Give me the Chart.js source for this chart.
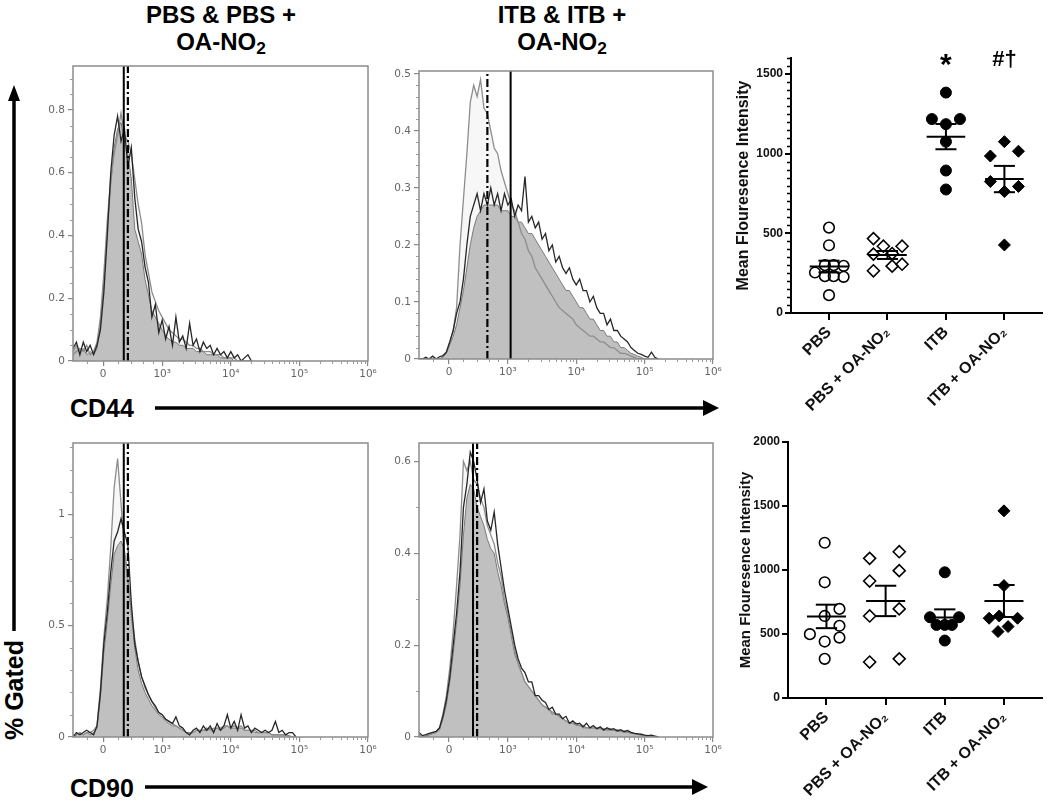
<!DOCTYPE html>
<html>
<head>
<meta charset="utf-8">
<script src="https://cdn.jsdelivr.net/npm/chart.js@4.4.1/dist/chart.umd.min.js"></script>
<style>
  body { margin: 0; background: #fff; }
  #fig { position: relative; width: 1050px; height: 804px; overflow: hidden; font-family: 'Liberation Sans', Arial, sans-serif; color: #000; }
  #fig canvas { position: absolute; }
  #fig svg { position: absolute; left: 0; top: 0; }
  .head { position: absolute; width: 300px; text-align: center; font-weight: bold; font-size: 24px; line-height: 27px; }
  .head sub { font-size: 0.72em; vertical-align: -0.22em; line-height: 0; }
  .axlbl { position: absolute; font-weight: bold; font-size: 25px; line-height: 25px; white-space: nowrap; }
</style>
</head>
<body>
<div id="fig">
  <svg width="1050" height="804">
    <g fill="#000" stroke="#000" stroke-width="3.5">
      <line x1="14" y1="631" x2="14" y2="98" />
      <polygon points="14,85 8,101 20,101" stroke="none" />
      <line x1="155" y1="408" x2="706" y2="408" />
      <polygon points="719,408 703,400 703,416" stroke="none" />
      <line x1="145" y1="787" x2="695" y2="787" />
      <polygon points="708,787 692,779 692,795" stroke="none" />
    </g>
  </svg>
  <div class="head" style="left:71px;top:1px">PBS &amp; PBS +<br>OA-NO<sub>2</sub></div>
  <div class="head" style="left:412px;top:1px">ITB &amp; ITB +<br>OA-NO<sub>2</sub></div>
  <div class="axlbl" style="left:70px;top:396px">CD44</div>
  <div class="axlbl" style="left:70px;top:776px">CD90</div>
  <div class="axlbl" style="left:14px;top:690px;transform:translate(-50%,-50%) rotate(-90deg)">% Gated</div>
  <canvas id="histCd44Pbs"></canvas>
  <canvas id="histCd44Itb"></canvas>
  <canvas id="histCd90Pbs"></canvas>
  <canvas id="histCd90Itb"></canvas>
  <canvas id="mfiCd44"></canvas>
  <canvas id="mfiCd90"></canvas>
</div>
<script>
// ---- histogram bins (display units: 3 = 10^3, 4 = 10^4 ...) ----
const U_BINS = [1.70,1.75,1.80,1.85,1.90,1.95,2.00,2.05,2.10,2.15,2.20,2.25,2.30,2.35,2.40,2.45,2.50,2.55,2.60,2.65,
  2.70,2.75,2.80,2.85,2.90,2.95,3.00,3.05,3.10,3.15,3.20,3.25,3.30,3.35,3.40,3.45,3.50,3.55,3.60,3.65,
  3.70,3.75,3.80,3.85,3.90,3.95,4.00,4.05,4.10,4.15,4.20,4.25,4.30,4.35,4.40,4.45,4.50,4.55,4.60,4.65,
  4.70,4.75,4.80,4.85,4.90,4.95,5.00,5.05,5.10,5.15,5.20];

const HIST_X_TICKS = [2.14, 3, 4, 5, 6];
const HIST_X_LABELS = ['0', '10³', '10⁴', '10⁵', '10⁶'];

// CD44, PBS & PBS + OA-NO2
const CD44_PBS_FILL = [0.03,0.05,0.03,0.04,0.02,0.03,0.02,0.04,0.12,0.25,0.42,0.56,0.68,0.74,0.76,0.70,0.66,0.58,0.42,0.38,
  0.34,0.26,0.21,0.16,0.14,0.12,0.10,0.08,0.07,0.06,0.06,0.05,0.05,0.04,0.04,0.04,0.03,0.03,0.03,0.02,
  0.02,0.02,0.02,0.01,0.01,0.01,0.01,0,0,0,0,0,0];
const CD44_PBS_DARK = [0.04,0.06,0.02,0.06,0.03,0.05,0.02,0.05,0.10,0.22,0.40,0.60,0.72,0.78,0.70,0.74,0.62,0.68,0.52,0.42,
  0.38,0.30,0.25,0.14,0.18,0.09,0.13,0.07,0.11,0.05,0.14,0.06,0.08,0.04,0.12,0.05,0.07,0.03,0.06,0.04,
  0.05,0.02,0.04,0.02,0.03,0.01,0.03,0.01,0.02,0,0.01,0.02,0];
const CD44_PBS_LIGHT = [0.02,0.03,0.04,0.03,0.05,0.02,0.03,0.06,0.14,0.28,0.45,0.58,0.66,0.72,0.79,0.72,0.70,0.66,0.58,0.50,
  0.44,0.34,0.28,0.22,0.19,0.16,0.14,0.12,0.10,0.09,0.08,0.07,0.07,0.06,0.05,0.05,0.04,0.04,0.03,0.03,
  0.03,0.02,0.02,0.02,0.01,0.01,0.01,0.01,0,0,0,0,0];

// CD44, ITB & ITB + OA-NO2
const CD44_ITB_FILL = [0,0,0,0,0,0,0,0.003,0.01,0.025,0.04,0.06,0.09,0.12,0.16,0.20,0.23,0.25,0.26,0.27,
  0.27,0.27,0.27,0.27,0.26,0.26,0.26,0.25,0.25,0.24,0.24,0.23,0.22,0.22,0.21,0.20,0.19,0.18,0.17,0.16,
  0.15,0.14,0.13,0.12,0.12,0.11,0.10,0.09,0.09,0.08,0.07,0.07,0.06,0.05,0.05,0.04,0.04,0.03,0.03,0.02,
  0.02,0.015,0.01,0.008,0.005,0.003,0,0,0,0,0];
const CD44_ITB_DARK = [0,0,0.003,0,0.005,0,0.004,0.006,0.012,0.03,0.05,0.08,0.10,0.14,0.20,0.25,0.27,0.29,0.26,0.29,
  0.27,0.30,0.27,0.29,0.26,0.29,0.27,0.28,0.25,0.27,0.26,0.32,0.24,0.25,0.23,0.24,0.21,0.22,0.19,0.20,
  0.17,0.18,0.16,0.15,0.16,0.14,0.13,0.14,0.12,0.12,0.10,0.11,0.09,0.08,0.08,0.06,0.07,0.05,0.05,0.04,
  0.035,0.03,0.02,0.015,0.01,0.008,0.005,0.003,0.012,0.003,0];
const CD44_ITB_LIGHT = [0,0,0,0,0,0,0,0.004,0.012,0.03,0.05,0.09,0.20,0.28,0.36,0.45,0.48,0.46,0.49,0.44,
  0.43,0.40,0.37,0.36,0.33,0.31,0.29,0.27,0.26,0.24,0.22,0.21,0.19,0.18,0.16,0.15,0.14,0.13,0.12,0.11,
  0.10,0.09,0.085,0.08,0.075,0.07,0.06,0.055,0.05,0.045,0.04,0.04,0.035,0.03,0.03,0.025,0.02,0.02,0.015,0.01,
  0.01,0.008,0.005,0.003,0,0,0,0,0,0,0];

// CD90, PBS & PBS + OA-NO2
const CD90_PBS_FILL = [0,0.01,0.02,0.01,0.02,0.01,0.02,0.04,0.18,0.38,0.52,0.68,0.82,0.86,0.88,0.84,0.72,0.55,0.40,0.30,
  0.24,0.20,0.17,0.14,0.12,0.10,0.09,0.07,0.06,0.05,0.05,0.04,0.03,0.02,0.02,0.02,0.03,0.03,0.03,0.03,
  0.04,0.03,0.04,0.03,0.04,0.05,0.04,0.04,0.04,0.04,0.03,0.03,0.03,0.02,0.02,0.02,0.02,0.02,0.01,0.01,
  0.01,0.01,0.01,0.005,0,0];
const CD90_PBS_DARK = [0,0.02,0.01,0.02,0.03,0.02,0.01,0.05,0.20,0.42,0.56,0.74,0.88,0.92,0.98,0.92,0.86,0.60,0.42,0.34,
  0.27,0.23,0.19,0.16,0.14,0.11,0.10,0.08,0.07,0.06,0.09,0.05,0.04,0.02,0.01,0.03,0.04,0.02,0.05,0.03,
  0.05,0.02,0.06,0.03,0.05,0.10,0.04,0.07,0.03,0.10,0.04,0.05,0.02,0.04,0.03,0.02,0.03,0.02,0.03,0.07,
  0.02,0.03,0.01,0.02,0.02,0];
const CD90_PBS_LIGHT = [0,0.01,0.02,0.01,0.02,0.02,0.03,0.05,0.22,0.45,0.62,0.85,1.12,1.25,1.05,0.82,0.70,0.56,0.44,0.34,
  0.27,0.22,0.19,0.16,0.13,0.11,0.10,0.08,0.07,0.06,0.05,0.04,0.03,0.02,0.02,0.02,0.03,0.03,0.03,0.04,
  0.03,0.04,0.04,0.04,0.05,0.05,0.04,0.05,0.04,0.05,0.03,0.03,0.03,0.03,0.02,0.02,0.02,0.02,0.01,0.01,
  0.01,0.01,0.01,0.005,0,0];

// CD90, ITB & ITB + OA-NO2
const CD90_ITB_FILL = [0.005,0,0.003,0.005,0.008,0.01,0.015,0.04,0.07,0.12,0.18,0.25,0.33,0.44,0.52,0.55,0.54,0.50,0.48,0.46,
  0.43,0.41,0.40,0.36,0.33,0.29,0.26,0.22,0.18,0.16,0.14,0.12,0.11,0.10,0.09,0.08,0.07,0.065,0.06,0.055,
  0.05,0.045,0.04,0.035,0.03,0.03,0.025,0.025,0.02,0.02,0.02,0.02,0.018,0.018,0.016,0.015,0.015,0.014,0.013,0.012,
  0.01,0.01,0.008,0.007,0.006,0.004,0.003,0.002,0,0,0];
const CD90_ITB_DARK = [0.01,0.003,0.005,0.008,0.01,0.012,0.02,0.045,0.08,0.13,0.20,0.27,0.36,0.50,0.55,0.62,0.60,0.56,0.51,0.54,
  0.47,0.45,0.49,0.42,0.37,0.32,0.28,0.24,0.20,0.17,0.15,0.14,0.12,0.12,0.09,0.09,0.08,0.075,0.06,0.065,
  0.05,0.05,0.04,0.045,0.03,0.035,0.028,0.03,0.022,0.03,0.02,0.025,0.018,0.022,0.015,0.02,0.016,0.018,0.013,0.016,
  0.012,0.014,0.01,0.008,0.007,0.006,0.004,0.003,0.004,0.002,0];
const CD90_ITB_LIGHT = [0.005,0,0,0.005,0.008,0.01,0.02,0.05,0.09,0.15,0.23,0.33,0.44,0.60,0.58,0.60,0.56,0.55,0.52,0.50,
  0.46,0.44,0.42,0.38,0.35,0.30,0.27,0.23,0.19,0.16,0.14,0.12,0.11,0.10,0.09,0.08,0.07,0.065,0.06,0.05,
  0.05,0.045,0.04,0.035,0.03,0.03,0.03,0.025,0.025,0.02,0.02,0.02,0.02,0.02,0.018,0.016,0.018,0.015,0.016,0.014,
  0.012,0.01,0.01,0.008,0.006,0.004,0.003,0.002,0,0,0];

// gate lines (solid = PBS / ITB, dash-dot = + OA-NO2)
const GATE_SOLID = [2.44, 3.04, 2.44, 2.49];
const GATE_DASH = [2.50, 2.70, 2.50, 2.55];

// ---- mean fluorescence intensity dot plots ----
const CATS = ['PBS', 'PBS + OA-NO₂', 'ITB', 'ITB + OA-NO₂'];

const MFI44_PBS = [536, 425, 300, 300, 296, 254, 231, 231, 227, 112];
const MFI44_PBS_OA = [467, 419, 419, 369, 373, 265, 294, 306];
const MFI44_ITB = [1383, 1217, 1217, 1185, 1075, 894, 775];
const MFI44_ITB_OA = [1075, 985, 1015, 825, 762, 794, 427];
const JIT44_PBS = [0, 0, -0.07, 0.08, 0.25, -0.24, -0.07, 0.08, 0.25, 0];
const JIT44_PBS_OA = [-0.24, -0.07, 0.25, -0.24, 0.08, -0.24, 0.08, 0.25];
const JIT44_ITB = [0, -0.24, 0.24, 0, 0, 0, 0];
const JIT44_ITB_OA = [0, -0.24, 0.24, -0.24, 0, 0.24, 0];

const MFI90_PBS = [1213, 904, 641, 696, 564, 499, 441, 472, 306];
const MFI90_PBS_OA = [1091, 1143, 995, 914, 641, 696, 281, 306];
const MFI90_ITB = [982, 631, 631, 571, 571, 571, 449];
const MFI90_ITB_OA = [1462, 878, 623, 641, 623, 519, 558];
const JIT90_PBS = [-0.03, -0.03, -0.03, 0.22, 0.22, -0.28, -0.03, 0.22, -0.03];
const JIT90_PBS_OA = [-0.27, 0.23, 0.23, -0.27, -0.27, 0.23, -0.27, 0.23];
const JIT90_ITB = [0, -0.25, 0.24, -0.14, 0, 0.12, 0];
const JIT90_ITB_OA = [0, 0, -0.25, -0.08, 0.23, -0.1, 0.07];

const MFI44_TICKS = [0, 500, 1000, 1500];
const MFI90_TICKS = [0, 500, 1000, 1500, 2000];
const SIG_MARKS = ['', '', '*', '#†'];

Chart.defaults.font.family = "'Liberation Sans', Arial, sans-serif";
Chart.defaults.animation = false;
Chart.defaults.plugins.legend.display = false;
Chart.defaults.plugins.tooltip.enabled = false;

// ---- small plugins ----
const framePlugin = {
  id: 'frame',
  afterDraw(chart, args, opts) {
    const { ctx, chartArea: a } = chart;
    ctx.save();
    ctx.strokeStyle = opts.color;
    ctx.lineWidth = opts.width;
    ctx.strokeRect(a.left, a.top, a.right - a.left, a.bottom - a.top);
    ctx.restore();
  }
};

const minorTicksPlugin = {
  id: 'minorTicks',
  afterDraw(chart, args, opts) {
    const { ctx, chartArea: a, scales } = chart;
    ctx.save();
    ctx.strokeStyle = opts.color;
    ctx.lineWidth = opts.width;
    ctx.beginPath();
    (opts.x || []).forEach(v => {
      const px = Math.round(scales.x.getPixelForValue(v)) + 0.5;
      if (px < a.left || px > a.right) return;
      ctx.moveTo(px, a.bottom);
      ctx.lineTo(px, a.bottom + opts.len);
    });
    (opts.y || []).forEach(v => {
      const py = Math.round(scales.y.getPixelForValue(v)) + 0.5;
      ctx.moveTo(a.left, py);
      ctx.lineTo(a.left - opts.len, py);
    });
    ctx.stroke();
    ctx.restore();
  }
};

const meanSemPlugin = {
  id: 'meanSem',
  afterDatasetsDraw(chart, args, opts) {
    const { ctx, scales: { x, y } } = chart;
    ctx.save();
    ctx.strokeStyle = '#000';
    ctx.lineWidth = opts.width;
    opts.groups.forEach((vals, i) => {
      const n = vals.length;
      const mean = vals.reduce((s, v) => s + v, 0) / n;
      const sd = Math.sqrt(vals.reduce((s, v) => s + (v - mean) ** 2, 0) / (n - 1));
      const sem = sd / Math.sqrt(n);
      const hline = (v, half) => {
        ctx.beginPath();
        ctx.moveTo(x.getPixelForValue(i - half), y.getPixelForValue(v));
        ctx.lineTo(x.getPixelForValue(i + half), y.getPixelForValue(v));
        ctx.stroke();
      };
      hline(mean, opts.meanHalf);
      hline(mean + sem, opts.semHalf);
      hline(mean - sem, opts.semHalf);
      ctx.beginPath();
      ctx.moveTo(x.getPixelForValue(i), y.getPixelForValue(mean - sem));
      ctx.lineTo(x.getPixelForValue(i), y.getPixelForValue(mean + sem));
      ctx.stroke();
    });
    ctx.restore();
  }
};

const sigPlugin = {
  id: 'sig',
  afterDraw(chart, args, opts) {
    if (!opts.marks) return;
    const { ctx, scales: { x, y } } = chart;
    ctx.save();
    ctx.fillStyle = '#000';
    ctx.textAlign = 'center';
    opts.marks.forEach((m, i) => {
      if (!m) return;
      const star = m === '*';
      ctx.font = star ? "bold 30px 'Liberation Sans', Arial" : "bold 22px 'Liberation Sans', Arial";
      ctx.fillText(m, x.getPixelForValue(i), y.getPixelForValue(opts.level) + (star ? 16 : 8));
    });
    ctx.restore();
  }
};

// x minor ticks of the flow histograms
const HIST_X_MINOR = [1.9, 2.35, 2.55, 2.72, 2.86];
[3, 4, 5].forEach(k => { for (let m = 2; m <= 9; m++) HIST_X_MINOR.push(k + Math.log10(m)); });

function histogram(id, box, fillVals, darkVals, lightVals, yMax, yTicks, yMinorStep, solidU, dashU) {
  const cv = document.getElementById(id);
  const W = box.r - box.l, H = box.b - box.t;
  cv.width = W + 46 + 18;
  cv.height = H + 12 + 28;
  cv.style.left = (box.l - 46) + 'px';
  cv.style.top = (box.t - 12) + 'px';

  const pts = vals => vals.map((v, i) => ({ x: U_BINS[i], y: v }));
  const yMinor = [];
  for (let k = 1; k * yMinorStep < yMax; k++) {
    const v = Math.round(k * yMinorStep * 1000) / 1000;
    if (!yTicks.some(t => Math.abs(t - v) < 1e-6)) yMinor.push(v);
  }

  new Chart(cv, {
    type: 'line',
    data: {
      datasets: [
        { data: pts(lightVals), fill: 'origin', backgroundColor: 'rgba(0,0,0,0.03)', borderWidth: 0, order: 6 },
        { data: pts(fillVals), fill: 'origin', backgroundColor: '#c0c0c0', borderColor: '#7a7a7a', borderWidth: 1, order: 5 },
        { data: pts(lightVals), fill: false, borderColor: '#8d8d8d', borderWidth: 1.3, order: 4 },
        { data: pts(darkVals), fill: false, borderColor: '#262626', borderWidth: 1.3, order: 3 },
        { data: [{ x: solidU, y: 0 }, { x: solidU, y: yMax }], fill: false, borderColor: '#000', borderWidth: 2, order: 1 },
        { data: [{ x: dashU, y: 0 }, { x: dashU, y: yMax }], fill: false, borderColor: '#000', borderWidth: 2.2,
          borderDash: [8, 3, 2, 3], order: 1 }
      ]
    },
    options: {
      responsive: false,
      layout: { padding: { top: 12, right: 18, left: 0, bottom: 0 } },
      elements: { point: { radius: 0 }, line: { tension: 0 } },
      scales: {
        x: {
          type: 'linear', min: 1.7, max: 6,
          afterBuildTicks: s => { s.ticks = HIST_X_TICKS.map(v => ({ value: v })); },
          afterFit: s => { s.height = 28; },
          ticks: { autoSkip: false, maxRotation: 0, color: '#666', padding: 2,
                   font: { family: "'DejaVu Sans', Verdana, sans-serif", size: 10.5 },
                   callback: (v, i) => HIST_X_LABELS[i] },
          grid: { drawOnChartArea: false, tickLength: 5, color: '#888', lineWidth: 1.2 },
          border: { display: false }
        },
        y: {
          min: 0, max: yMax,
          afterBuildTicks: s => { s.ticks = yTicks.map(v => ({ value: v })); },
          afterFit: s => { s.width = 46; },
          ticks: { autoSkip: false, color: '#666', padding: 3,
                   font: { family: "'DejaVu Sans', Verdana, sans-serif", size: 10.5 },
                   callback: v => String(v) },
          grid: { drawOnChartArea: false, tickLength: 5, color: '#888', lineWidth: 1.2 },
          border: { display: false }
        }
      },
      plugins: {
        frame: { color: '#8c8c8c', width: 1.5 },
        minorTicks: { x: HIST_X_MINOR, y: yMinor, len: 3, color: '#999', width: 1 }
      }
    },
    plugins: [framePlugin, minorTicksPlugin]
  });
}

const GROUP_STYLE = [
  { pointStyle: 'circle', pointRadius: 5.3, pointBackgroundColor: 'rgba(255,255,255,0)', pointBorderWidth: 1.6 },
  { pointStyle: 'rectRot', pointRadius: 6, pointBackgroundColor: 'rgba(255,255,255,0)', pointBorderWidth: 1.6 },
  { pointStyle: 'circle', pointRadius: 5.5, pointBackgroundColor: '#000', pointBorderWidth: 1 },
  { pointStyle: 'rectRot', pointRadius: 6, pointBackgroundColor: '#000', pointBorderWidth: 1 }
];

function dotPlot(id, place, groups, jitters, yMax, yTicks, yMinorStep, titleSize, titlePad, marks) {
  const cv = document.getElementById(id);
  cv.width = place.w;
  cv.height = place.h;
  cv.style.left = place.left + 'px';
  cv.style.top = place.top + 'px';

  const yMinor = [];
  if (yMinorStep) {
    for (let v = yMinorStep; v <= yMax; v += yMinorStep) if (!yTicks.includes(v)) yMinor.push(v);
  }

  const datasets = groups.map((vals, g) => Object.assign({
    data: vals.map((v, k) => ({ x: g + jitters[g][k], y: v })),
    pointBorderColor: '#000'
  }, GROUP_STYLE[g]));

  new Chart(cv, {
    type: 'scatter',
    data: { datasets },
    options: {
      responsive: false,
      layout: { padding: { top: place.areaTop, right: 5, left: 0, bottom: 0 } },
      scales: {
        x: {
          type: 'linear', min: -0.65, max: 3.65,
          afterBuildTicks: s => { s.ticks = CATS.map((c, i) => ({ value: i })); },
          afterFit: s => { s.height = place.h - place.areaBottom; },
          ticks: { autoSkip: false, minRotation: 45, maxRotation: 45, color: '#111', padding: 3,
                   font: { size: 16, weight: 'bold' }, callback: (v, i) => CATS[i] },
          grid: { drawOnChartArea: false, tickLength: 7, color: '#000', lineWidth: 2 },
          border: { color: '#000', width: 2 }
        },
        y: {
          min: 0, max: yMax,
          afterBuildTicks: s => { s.ticks = yTicks.map(v => ({ value: v })); },
          afterFit: s => { s.width = place.areaLeft; },
          ticks: { autoSkip: false, color: '#111', padding: 2, font: { size: 12, weight: 'bold' },
                   callback: v => String(v) },
          grid: { drawOnChartArea: false, tickLength: 6, color: '#000', lineWidth: 2 },
          border: { color: '#000', width: 2 },
          title: { display: true, text: 'Mean Flouresence Intensity', color: '#111',
                   font: { size: titleSize, weight: 'bold' }, padding: { top: titlePad, bottom: 0 } }
        }
      },
      plugins: {
        minorTicks: { y: yMinor, len: 4, color: '#000', width: 1.5 },
        meanSem: { groups, meanHalf: 0.33, semHalf: 0.18, width: 2 },
        sig: { marks, level: yMax }
      }
    },
    plugins: [minorTicksPlugin, meanSemPlugin, sigPlugin]
  });
}

histogram('histCd44Pbs', { l: 73, t: 66, r: 368, b: 361 }, CD44_PBS_FILL, CD44_PBS_DARK, CD44_PBS_LIGHT,
  0.94, [0, 0.2, 0.4, 0.6, 0.8], 0.05, GATE_SOLID[0], GATE_DASH[0]);
histogram('histCd44Itb', { l: 419, t: 71, r: 713, b: 359 }, CD44_ITB_FILL, CD44_ITB_DARK, CD44_ITB_LIGHT,
  0.505, [0, 0.1, 0.2, 0.3, 0.4, 0.5], 0.02, GATE_SOLID[1], GATE_DASH[1]);
histogram('histCd90Pbs', { l: 73, t: 443, r: 368, b: 737 }, CD90_PBS_FILL, CD90_PBS_DARK, CD90_PBS_LIGHT,
  1.32, [0, 0.5, 1], 0.1, GATE_SOLID[2], GATE_DASH[2]);
histogram('histCd90Itb', { l: 419, t: 443, r: 713, b: 737 }, CD90_ITB_FILL, CD90_ITB_DARK, CD90_ITB_LIGHT,
  0.64, [0, 0.2, 0.4, 0.6], 0.1, GATE_SOLID[3], GATE_DASH[3]);

dotPlot('mfiCd44', { left: 720, top: 0, w: 330, h: 420, areaLeft: 71, areaTop: 58, areaBottom: 313 },
  [MFI44_PBS, MFI44_PBS_OA, MFI44_ITB, MFI44_ITB_OA],
  [JIT44_PBS, JIT44_PBS_OA, JIT44_ITB, JIT44_ITB_OA],
  1600, MFI44_TICKS, 50, 16, 14, SIG_MARKS);
dotPlot('mfiCd90', { left: 720, top: 400, w: 330, h: 404, areaLeft: 68, areaTop: 42, areaBottom: 298 },
  [MFI90_PBS, MFI90_PBS_OA, MFI90_ITB, MFI90_ITB_OA],
  [JIT90_PBS, JIT90_PBS_OA, JIT90_ITB, JIT90_ITB_OA],
  2000, MFI90_TICKS, 0, 15, 17, null);
</script>
</body>
</html>
